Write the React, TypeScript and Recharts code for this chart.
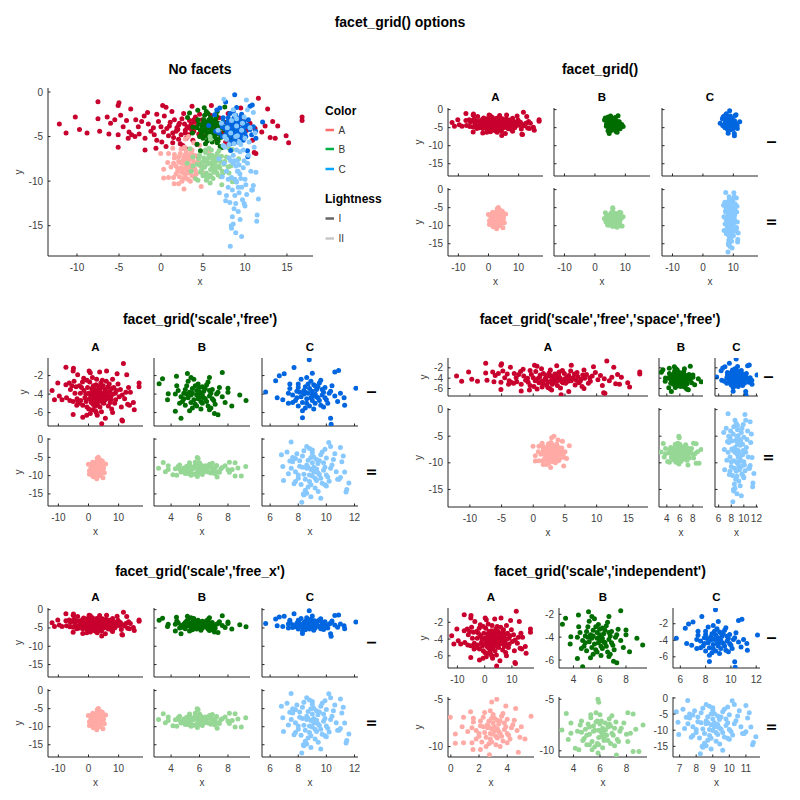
import { ScatterChart, Scatter, XAxis, YAxis } from 'recharts'

type Pt = [number, number]

// group A, lightness I
const A_I: Pt[] = [
  [-12.1, -3.6], [-11.3, -4.6], [-10.2, -2.8], [-9.7, -4.2], [-8.8, -4.6], [-7.5, -1.1], [-7.5, -3.0],
  [-7.3, -4.4], [-6.4, -2.8], [-6.2, -4.7], [-6.0, -3.5], [-5.1, -1.5], [-5.1, -6.2], [-5.1, -4.8],
  [-5.5, -3.1], [-4.8, -2.6], [-3.6, -1.9], [-3.9, -5.2], [-3.0, -3.1], [-1.9, -6.5], [-1.6, -2.3],
  [-0.6, -6.3], [-0.5, -2.5], [0.6, -1.7], [1.4, -5.7], [11.6, -0.7], [12.7, -1.9], [13.3, -3.3],
  [13.6, -5.2], [14.9, -4.9], [13.9, -3.8], [15.2, -5.7], [16.8, -2.8], [16.8, -3.2], [13.0, -5.1],
  [12.4, -3.8], [11.3, -6.9], [4.4, -7.2], [11.1, -6.8], [0.2, -1.5], [-5.0, -1.2], [3.7, -1.6],
  [6.0, -1.5], [9.5, -1.8], [5.6, -6.6], [2.9, -6.3], [8.0, -6.0], [-3.5, -4.8], [12.0, -4.5],
  [2.1, -3.7], [4.8, -4.3], [0.7, -4.1], [6.3, -3.9], [-1.2, -4.4], [3.4, -3.2], [8.1, -4.0],
  [1.5, -5.1], [5.6, -3.5], [-2.7, -3.9], [2.9, -4.6], [7.2, -4.9], [-0.3, -3.3], [4.1, -2.8],
  [9.3, -3.6], [3.8, -5.4], [0.1, -5.6], [6.9, -2.9], [-3.8, -4.5], [2.5, -3.0], [5.1, -5.0],
  [10.2, -4.3], [1.1, -3.4], [-1.9, -5.2], [7.8, -3.4], [3.1, -4.0], [4.5, -4.7], [-0.8, -4.8],
  [6.0, -4.5], [8.7, -5.0], [2.3, -5.8], [5.3, -3.8], [0.4, -2.7], [-2.3, -3.3], [3.6, -3.6],
  [7.5, -4.2], [1.8, -4.4], [9.8, -2.9], [4.3, -5.9], [-4.5, -3.9], [6.6, -5.3], [2.7, -2.4],
  [0.9, -4.9], [5.9, -2.6], [-1.5, -3.6], [3.0, -5.2], [8.4, -3.3], [11.2, -4.1], [1.3, -2.2],
  [4.9, -3.1], [-3.1, -5.0], [6.2, -4.1], [2.0, -4.2], [7.0, -3.7], [0.0, -3.9], [3.9, -4.4],
  [5.5, -4.6], [-0.5, -5.4], [9.0, -4.6], [2.6, -6.0], [4.6, -2.5], [1.6, -3.1], [8.0, -2.4],
  [-2.0, -2.7], [6.5, -3.2], [3.3, -4.8], [10.6, -3.5], [0.6, -6.1], [5.0, -4.1], [2.2, -3.5],
  [1.9, -4.0], [3.5, -4.1], [4.2, -3.9], [2.8, -3.6], [3.7, -4.5], [1.4, -4.6], [5.2, -4.3],
  [0.3, -4.5], [6.8, -4.4], [2.4, -4.8], [4.0, -3.4], [3.2, -3.9], [5.7, -4.0], [1.0, -3.8],
  [2.9, -4.3], [4.7, -4.9], [-0.9, -4.0], [7.4, -4.6], [2.1, -5.3], [3.9, -3.1], [10.9, -5.4],
  [-2.6, -4.7], [8.9, -3.9], [-4.1, -3.2], [7.7, -5.6],
]

const B_I: Pt[] = [
  [3.16, -2.87], [3.4, -2.35], [5.15, -1.77], [4.38, -2.06], [4.7, -6.6], [4.3, -5.86], [3.75, -4.6],
  [3.8, -3.96], [7.6, -1.68], [8.83, -4.1], [9.27, -4.69], [8.27, -5.28], [7.05, -6.1], [6.7, -5.7],
  [7.3, -6.24], [8.0, -3.37], [8.0, -3.8], [6.7, -2.2], [5.4, -2.2],
  [5.8, -4.1], [6.3, -3.7], [5.2, -4.4], [6.7, -4.2], [5.5, -3.4], [6.1, -4.8], [4.9, -3.9],
  [6.9, -3.5], [5.7, -5.1], [6.4, -4.5], [5.1, -3.1], [6.0, -3.3], [7.2, -4.0], [5.4, -4.9],
  [6.6, -5.3], [4.7, -4.3], [5.9, -2.9], [6.2, -4.1], [5.3, -3.8], [7.0, -4.7], [4.5, -3.6],
  [6.5, -3.0], [5.6, -4.6], [6.8, -3.9], [5.0, -5.2], [6.1, -5.6], [5.8, -3.6], [7.4, -3.3],
  [4.8, -4.8], [6.3, -4.4], [5.5, -5.5], [6.0, -3.8], [7.1, -5.1], [5.2, -2.6], [6.6, -2.7],
  [4.6, -5.0], [5.9, -4.5], [6.4, -3.4], [5.4, -4.1], [7.6, -4.3], [5.0, -3.5], [6.2, -5.0],
  [5.7, -3.1], [6.9, -4.5], [4.3, -4.0], [6.7, -3.6], [5.3, -5.8], [6.0, -4.2], [5.6, -2.4],
  [7.3, -3.8], [4.9, -4.5], [6.5, -4.8], [5.1, -4.0], [6.2, -3.2], [5.8, -5.3], [7.8, -4.9],
  [4.4, -3.1], [6.8, -5.5], [5.5, -3.9], [6.1, -4.3],
]

const C_I: Pt[] = [
  [5.68, -3.77], [8.78, -0.3], [6.65, -2.02], [7.0, -1.8], [12.1, -3.37], [11.26, -4.4], [11.3, -5.2],
  [10.87, -1.45], [10.6, -1.6], [10.34, -7.25], [10.3, -6.6], [8.3, -6.55], [9.0, -1.74], [6.39, -2.55],
  [6.5, -4.4], [7.3, -5.0], [7.7, -1.13], [6.9, -4.6], [11.0, -3.9],
  [8.7, -3.9], [9.3, -3.5], [8.2, -4.3], [9.7, -4.1], [8.5, -3.2], [9.0, -4.7], [7.9, -3.7],
  [9.9, -3.3], [8.6, -5.0], [9.4, -4.4], [8.0, -2.9], [9.1, -3.0], [10.2, -3.9], [8.3, -4.9],
  [9.6, -5.2], [7.6, -4.1], [8.9, -2.6], [9.2, -4.0], [8.4, -3.6], [10.0, -4.6], [7.4, -3.4],
  [9.5, -2.8], [8.6, -4.5], [9.8, -3.8], [8.0, -5.3], [9.1, -5.6], [8.8, -3.4], [10.4, -3.1],
  [7.8, -4.7], [9.3, -4.3], [8.5, -5.5], [9.0, -3.7], [10.1, -5.0], [8.2, -2.4], [9.6, -2.5],
  [7.6, -4.9], [8.9, -4.4], [9.4, -3.2], [8.4, -4.0], [10.6, -4.2], [8.0, -3.3], [9.2, -5.0],
  [8.7, -2.9], [9.9, -4.4], [7.3, -3.9], [9.7, -3.5], [8.3, -5.8], [9.0, -4.1], [8.6, -2.2],
  [10.3, -3.7], [7.9, -4.4], [9.5, -4.7], [8.1, -3.8], [9.2, -3.1], [8.8, -5.3], [10.8, -4.8],
  [7.4, -2.9], [9.8, -5.4], [8.5, -3.8], [9.1, -4.2],
]

const A_II: Pt[] = [
  [-0.04, -6.9], [0.32, -8.66], [0.32, -9.64], [0.9, -6.9], [0.9, -9.6], [1.57, -10.3], [2.1, -10.3],
  [2.74, -10.87], [2.9, -5.27], [3.26, -4.99], [3.9, -5.7], [4.79, -10.6], [5.69, -6.78], [5.26, -9.2],
  [4.6, -5.97], [1.4, -6.3], [3.5, -10.0], [1.5, -9.6], [0.8, -7.9], [5.0, -7.9], [1.2, -8.4],
  [2.9, -8.1], [3.4, -7.6], [2.4, -8.5], [3.8, -8.2], [2.7, -7.3], [3.2, -8.9], [2.1, -7.8],
  [4.0, -7.1], [2.8, -9.2], [3.5, -8.6], [2.3, -6.9], [3.1, -7.0], [4.3, -8.0], [2.5, -9.0],
  [3.7, -9.4], [1.8, -8.3], [3.0, -6.6], [3.3, -8.1], [2.6, -7.7], [4.1, -8.8], [1.6, -7.4],
  [3.6, -6.8], [2.8, -8.6], [3.9, -7.9], [2.2, -9.5], [3.2, -9.8], [3.0, -7.5], [4.5, -7.2],
  [2.0, -8.9], [3.4, -8.4], [2.7, -9.7], [3.1, -7.9], [4.2, -9.2], [2.4, -6.4], [3.7, -6.5],
  [1.8, -9.2], [3.0, -8.7], [3.5, -7.3], [2.6, -8.0], [4.7, -8.3], [2.1, -7.3], [3.3, -9.1],
  [2.9, -7.0], [4.0, -8.6], [1.5, -8.0], [3.8, -7.5], [2.5, -10.0], [3.1, -8.3], [2.8, -6.2],
  [4.4, -7.7], [2.0, -8.6], [3.6, -8.9], [2.3, -7.9], [3.3, -7.2], [2.9, -9.5], [4.9, -9.0],
  [1.6, -7.0], [4.0, -9.6], [2.7, -7.9], [3.2, -8.3],
]

const B_II: Pt[] = [
  [3.12, -7.98], [3.45, -6.38], [5.84, -5.0], [5.9, -5.3], [4.13, -9.74], [4.4, -9.9], [8.5, -10.07],
  [8.94, -10.07], [9.25, -7.5], [8.5, -6.44], [8.1, -6.3], [7.24, -10.4], [5.85, -10.2], [3.8, -7.3],
  [3.8, -8.3], [8.3, -8.3], [5.2, -9.4], [8.7, -7.9], [3.6, -8.9],
  [5.9, -8.0], [6.6, -7.7], [5.2, -8.4], [6.9, -8.3], [5.7, -7.2], [6.3, -8.8], [4.9, -7.9],
  [7.2, -7.2], [5.8, -9.3], [6.5, -8.5], [5.3, -6.8], [6.1, -7.1], [7.5, -8.1], [5.4, -9.1],
  [6.8, -9.3], [4.6, -8.2], [6.0, -6.5], [6.4, -8.0], [5.5, -7.6], [7.3, -8.9], [4.5, -7.5],
  [6.7, -6.9], [5.9, -8.7], [7.1, -7.8], [5.0, -9.4], [6.2, -9.7], [6.0, -7.4], [7.8, -7.3],
  [4.8, -8.8], [6.4, -8.5], [5.6, -9.6], [6.2, -7.8], [7.4, -9.1], [5.3, -6.5], [6.9, -6.6],
  [4.7, -9.0], [6.1, -8.6], [6.7, -7.4], [5.5, -8.1], [8.0, -8.4], [5.1, -7.4], [6.3, -9.0],
  [5.8, -7.1], [7.0, -8.5], [4.3, -8.1], [6.8, -7.6], [5.4, -9.9], [6.1, -8.2], [5.7, -6.3],
  [7.6, -7.8], [5.0, -8.5], [6.6, -9.0], [5.2, -7.7], [6.4, -7.3], [5.9, -9.4], [8.1, -9.1],
  [4.6, -7.1], [7.1, -9.5], [5.6, -8.0], [6.2, -8.3],
]

const C_II: Pt[] = [
  [8.25, -17.3], [6.8, -4.3], [6.9, -7.5], [6.95, -11.3], [7.49, -0.8], [8.36, -15.0], [8.6, -14.8],
  [9.42, -14.3], [10.17, -0.9], [10.3, -2.0], [11.0, -2.3], [11.45, -13.8], [11.6, -12.0], [11.3, -9.0],
  [10.8, -11.0], [9.9, -12.5], [7.7, -12.2], [7.3, -9.5], [7.8, -5.3], [8.4, -15.3], [11.4, -14.5],
  [11.1, -6.2], [7.4, -6.0], [11.0, -10.5], [8.9, -15.8], [9.6, -16.2], [7.2, -3.5], [11.2, -4.6],
  [8.9, -8.3], [9.4, -6.7], [8.4, -9.6], [9.8, -8.5], [8.7, -5.8], [9.2, -10.7], [8.1, -7.4],
  [10.0, -5.2], [8.8, -11.6], [9.5, -9.7], [8.3, -4.6], [9.1, -4.9], [10.3, -8.0], [8.5, -11.0],
  [9.7, -12.1], [7.8, -8.9], [9.0, -3.8], [9.3, -8.2], [8.6, -7.1], [10.1, -10.4], [7.6, -6.2],
  [9.6, -4.3], [8.8, -9.8], [9.9, -7.7], [8.2, -12.4], [9.2, -13.4], [9.0, -6.5], [10.5, -5.6],
  [8.0, -10.7], [9.4, -9.2], [8.7, -13.1], [9.1, -7.7], [10.2, -11.5], [8.4, -3.2], [9.7, -3.5],
  [7.8, -11.6], [9.0, -10.1], [9.5, -5.9], [8.6, -8.0], [10.7, -8.9], [8.1, -5.9], [9.3, -11.3],
  [8.9, -5.0], [10.0, -9.8], [7.5, -8.0], [9.8, -6.5], [8.5, -14.0], [9.1, -8.9], [8.8, -2.6],
  [10.4, -7.1], [8.0, -9.8], [9.6, -10.7], [8.3, -7.7], [9.3, -5.6], [8.9, -12.5], [10.9, -11.0],
  [7.6, -5.0], [10.0, -12.8], [8.7, -7.7], [9.2, -8.9], [9.0, -3.0], [8.6, -2.0], [9.9, -2.8],
  [10.6, -4.0], [7.9, -4.0],
]

const COLORS_I = ['#c8002d', '#006d00', '#0066e0']
const COLORS_II = ['#ffaaa5', '#96d796', '#87c8ff']
const LEGEND_COLORS = ['#ff6b6b', '#00b046', '#00a6ff']
const LEGEND_LIGHT = ['#666666', '#c8c8c8']
const CATEGORIES = ['A', 'B', 'C']
const LIGHTNESS = ['I', 'II']

// axis limits and ticks
const X_ALL: [number, number] = [-13.45, 18.1]
const X_B: [number, number] = [2.8, 9.55]
const X_C: [number, number] = [5.42, 12.25]
const Y_ALL: [number, number] = [-18.4, 0.45]
const Y_I: [number, number] = [-7.45, -0.1]
const Y_II: [number, number] = [-18.3, 0.3]

const XT_WIDE = [-10, -5, 0, 5, 10, 15]
const XT_A = [-10, 0, 10]
const XT_B = [4, 6, 8]
const XT_C = [6, 8, 10, 12]
const XT_AII = [0, 2, 4]
const XT_CII = [7, 8, 9, 10, 11]
const YT_ALL = [0, -5, -10, -15]
const YT_I = [-2, -4, -6]
const YT_II = [-5, -10]

const IND_X: [number, number][][] = [
  [X_ALL, [2.9, 9.6], [5.42, 12.3]],
  [[-0.2, 5.9], [2.9, 9.55], [6.6, 11.85]],
]
const IND_Y: [number, number][][] = [
  [[-7.45, -0.3], [-6.7, -1.45], [-7.35, -0.1]],
  [[-11.1, -4.75], [-10.6, -4.78], Y_II],
]
const IND_XT = [[XT_A, XT_B, XT_C], [XT_AII, XT_B, XT_CII]]
const IND_YT = [[YT_I, YT_I, YT_I], [YT_II, YT_II, YT_ALL]]

const GROUPS = [[A_I, B_I, C_I], [A_II, B_II, C_II]]
const GROUP_COLORS = [COLORS_I, COLORS_II]

const FONT = '"Liberation Sans", Arial, Helvetica, sans-serif'
const TICK_COLOR = '#404040'
const AXIS_COLOR = '#262626'
const YW = 40
const PT = 8
const PR = 8
const XH = 30

interface Series { data: Pt[]; color: string }
interface PanelDef {
  left: number; right: number; top: number; bottom: number
  xDomain: [number, number]; yDomain: [number, number]
  xTicks: number[]; yTicks: number[]
  xLabels: boolean; yLabels: boolean
  series: Series[]
}

function XTick(props: any) {
  const { x, y, payload, show } = props
  const base = y - 8
  return (
    <g>
      <line x1={x} x2={x} y1={base} y2={base - 2.5} stroke={AXIS_COLOR} />
      {show && (
        <text x={x} y={y} dy="0.71em" textAnchor="middle" fontSize={10} fill={TICK_COLOR} fontFamily={FONT}>
          {payload.value}
        </text>
      )}
    </g>
  )
}

function YTick(props: any) {
  const { x, y, payload, show } = props
  const base = x + 5
  return (
    <g>
      <line x1={base} x2={base + 2.5} y1={y} y2={y} stroke={AXIS_COLOR} />
      {show && (
        <text x={x} y={y} dy="0.355em" textAnchor="end" fontSize={10} fill={TICK_COLOR} fontFamily={FONT}>
          {payload.value}
        </text>
      )}
    </g>
  )
}

function Panel({ def }: { def: PanelDef }) {
  const w = def.right - def.left
  const h = def.bottom - def.top
  return (
    <div style={{ position: 'absolute', left: def.left - YW, top: def.top - PT }}>
      <ScatterChart
        width={w + YW + PR}
        height={h + PT + XH}
        margin={{ top: PT, right: PR, bottom: 0, left: 0 }}
      >
        <XAxis
          type="number" dataKey="x" domain={def.xDomain} ticks={def.xTicks} interval={0}
          allowDataOverflow height={XH} tickSize={0} tickMargin={8} tickLine={false}
          axisLine={{ stroke: AXIS_COLOR }}
          tick={(p: any) => <XTick {...p} show={def.xLabels} />}
        />
        <YAxis
          type="number" dataKey="y" domain={def.yDomain} ticks={def.yTicks} interval={0}
          allowDataOverflow width={YW} tickSize={0} tickMargin={5} tickLine={false}
          axisLine={{ stroke: AXIS_COLOR }}
          tick={(p: any) => <YTick {...p} show={def.yLabels} />}
        />
        {def.series.map((s, i) => (
          <Scatter
            key={i}
            data={s.data.map(([x, y]) => ({ x, y }))}
            isAnimationActive={false}
            shape={(p: any) => <circle cx={p.cx} cy={p.cy} r={2.5} fill={s.color} />}
          />
        ))}
      </ScatterChart>
    </div>
  )
}

interface GridDef {
  cols: number[][]
  rows: number[][]
  xDomain: (r: number, c: number) => [number, number]
  yDomain: (r: number, c: number) => [number, number]
  xTicks: (r: number, c: number) => number[]
  yTicks: (r: number, c: number) => number[]
  independent?: boolean
  rowLabelX: number
}

function gridPanels(g: GridDef): PanelDef[] {
  const out: PanelDef[] = []
  g.rows.forEach((row, r) => {
    g.cols.forEach((col, c) => {
      out.push({
        left: col[0], right: col[1], top: row[0], bottom: row[1],
        xDomain: g.xDomain(r, c), yDomain: g.yDomain(r, c),
        xTicks: g.xTicks(r, c), yTicks: g.yTicks(r, c),
        xLabels: g.independent || r === g.rows.length - 1,
        yLabels: g.independent || c === 0,
        series: [{ data: GROUPS[r][c], color: GROUP_COLORS[r][c] }],
      })
    })
  })
  return out
}

const COLS_L = [[48, 143], [154, 250], [262, 358]]
const COLS_R = COLS_L.map(([a, b]) => [a + 400, b + 400])

const GRID_2: GridDef = {
  cols: COLS_R, rows: [[108, 176], [188, 256]],
  xDomain: () => X_ALL, yDomain: () => Y_ALL,
  xTicks: () => XT_A, yTicks: () => YT_ALL, rowLabelX: 771,
}
const GRID_3: GridDef = {
  cols: COLS_L, rows: [[358, 426], [438, 506]],
  xDomain: (_r, c) => [X_ALL, X_B, X_C][c], yDomain: (r) => [Y_I, Y_II][r],
  xTicks: (_r, c) => [XT_A, XT_B, XT_C][c], yTicks: (r) => [YT_I, YT_ALL][r], rowLabelX: 371,
}
const GRID_4: GridDef = {
  cols: [[448, 648], [659, 703], [715, 758]], rows: [[358, 396], [408, 507]],
  xDomain: (_r, c) => [X_ALL, X_B, X_C][c], yDomain: (r) => [Y_I, Y_II][r],
  xTicks: (_r, c) => [XT_WIDE, XT_B, XT_C][c], yTicks: (r) => [YT_I, YT_ALL][r], rowLabelX: 768,
}
const GRID_5: GridDef = {
  cols: COLS_L, rows: [[608, 677], [689, 757]],
  xDomain: (_r, c) => [X_ALL, X_B, X_C][c], yDomain: () => Y_ALL,
  xTicks: (_r, c) => [XT_A, XT_B, XT_C][c], yTicks: () => YT_ALL, rowLabelX: 371,
}
const GRID_6: GridDef = {
  cols: [[448, 534], [559, 647], [673, 760]], rows: [[608, 668], [697, 757]],
  xDomain: (r, c) => IND_X[r][c], yDomain: (r, c) => IND_Y[r][c],
  xTicks: (r, c) => IND_XT[r][c], yTicks: (r, c) => IND_YT[r][c],
  independent: true, rowLabelX: 771,
}

const GRIDS = [GRID_2, GRID_3, GRID_4, GRID_5, GRID_6]

const NO_FACETS: PanelDef = {
  left: 48, right: 313, top: 88, bottom: 256,
  xDomain: X_ALL, yDomain: Y_ALL, xTicks: XT_WIDE, yTicks: YT_ALL,
  xLabels: true, yLabels: true,
  series: [
    { data: A_I, color: COLORS_I[0] }, { data: A_II, color: COLORS_II[0] },
    { data: B_I, color: COLORS_I[1] }, { data: B_II, color: COLORS_II[1] },
    { data: C_I, color: COLORS_I[2] }, { data: C_II, color: COLORS_II[2] },
  ],
}

const TITLES: [string, number, number][] = [
  ['No facets', 200, 69],
  ['facet_grid()', 600, 69],
  ["facet_grid('scale','free')", 200, 319],
  ["facet_grid('scale','free','space','free')", 600, 319],
  ["facet_grid('scale','free_x')", 200, 571],
  ["facet_grid('scale','independent')", 600, 571],
]

function yLabelOffset(ticks: number[]) {
  return Math.max(...ticks.map(t => String(t).length)) >= 3 ? 29.5 : 24.5
}

function GridText({ g }: { g: GridDef }) {
  const txt = { fontFamily: FONT, dominantBaseline: 'central' as const }
  const last = g.rows.length - 1
  return (
    <g>
      {g.cols.map((col, c) => (
        <text key={'c' + c} x={(col[0] + col[1]) / 2} y={g.rows[0][0] - 11.5} textAnchor="middle"
          fontSize={11.5} fontWeight="bold" fill="#000" style={txt}>{CATEGORIES[c]}</text>
      ))}
      {g.rows.map((row, r) => {
        const cy = (row[0] + row[1]) / 2
        const yx = g.cols[0][0] - yLabelOffset(g.yTicks(r, 0))
        return (
          <g key={'r' + r}>
            <text x={g.rowLabelX} y={cy} textAnchor="middle" fontSize={13} fontWeight="bold" fill="#000"
              style={txt} transform={`rotate(90 ${g.rowLabelX} ${cy})`}>{LIGHTNESS[r]}</text>
            <text x={yx} y={cy} textAnchor="middle" fontSize={10} fill={TICK_COLOR} style={txt}
              transform={`rotate(-90 ${yx} ${cy})`}>y</text>
          </g>
        )
      })}
      {g.cols.map((col, c) => (
        <text key={'x' + c} x={(col[0] + col[1]) / 2} y={g.rows[last][1] + 25.5} textAnchor="middle"
          fontSize={10} fill={TICK_COLOR} style={txt}>x</text>
      ))}
    </g>
  )
}

function Overlay() {
  const txt = { fontFamily: FONT, dominantBaseline: 'central' as const }
  const legendRows = [130, 149, 169]
  const lightRows = [218.5, 238.5]
  return (
    <svg width={800} height={800} style={{ position: 'absolute', left: 0, top: 0, pointerEvents: 'none' }}>
      <text x={400} y={22} textAnchor="middle" fontSize={14} fontWeight="bold" fill="#000" style={txt}>
        facet_grid() options
      </text>
      {TITLES.map(([t, x, y]) => (
        <text key={t} x={x} y={y} textAnchor="middle" fontSize={14} fontWeight="bold" fill="#000" style={txt}>{t}</text>
      ))}
      {/* no facets axis labels */}
      <text x={200} y={281.5} textAnchor="middle" fontSize={10} fill={TICK_COLOR} style={txt}>x</text>
      <text x={18.5} y={172} textAnchor="middle" fontSize={10} fill={TICK_COLOR} style={txt}
        transform="rotate(-90 18.5 172)">y</text>
      {/* legend */}
      <text x={325} y={111} fontSize={12} fontWeight="bold" fill="#000" style={txt}>Color</text>
      {CATEGORIES.map((c, i) => (
        <g key={c}>
          <line x1={325.5} x2={334} y1={legendRows[i]} y2={legendRows[i]} stroke={LEGEND_COLORS[i]} strokeWidth={2.5} />
          <text x={338.5} y={legendRows[i]} fontSize={10} fill="#333" style={txt}>{c}</text>
        </g>
      ))}
      <text x={325} y={199} fontSize={12} fontWeight="bold" fill="#000" style={txt}>Lightness</text>
      {LIGHTNESS.map((l, i) => (
        <g key={l}>
          <line x1={325.5} x2={334} y1={lightRows[i]} y2={lightRows[i]} stroke={LEGEND_LIGHT[i]} strokeWidth={2.5} />
          <text x={338.5} y={lightRows[i]} fontSize={10} fill="#333" style={txt}>{l}</text>
        </g>
      ))}
      {GRIDS.map((g, i) => <GridText key={i} g={g} />)}
    </svg>
  )
}

export default function App() {
  const panels = [NO_FACETS, ...GRIDS.flatMap(gridPanels)]
  return (
    <div style={{ position: 'absolute', left: 0, top: 0, width: 800, height: 800, background: '#fff', fontFamily: FONT }}>
      {panels.map((p, i) => <Panel key={i} def={p} />)}
      <Overlay />
    </div>
  )
}
